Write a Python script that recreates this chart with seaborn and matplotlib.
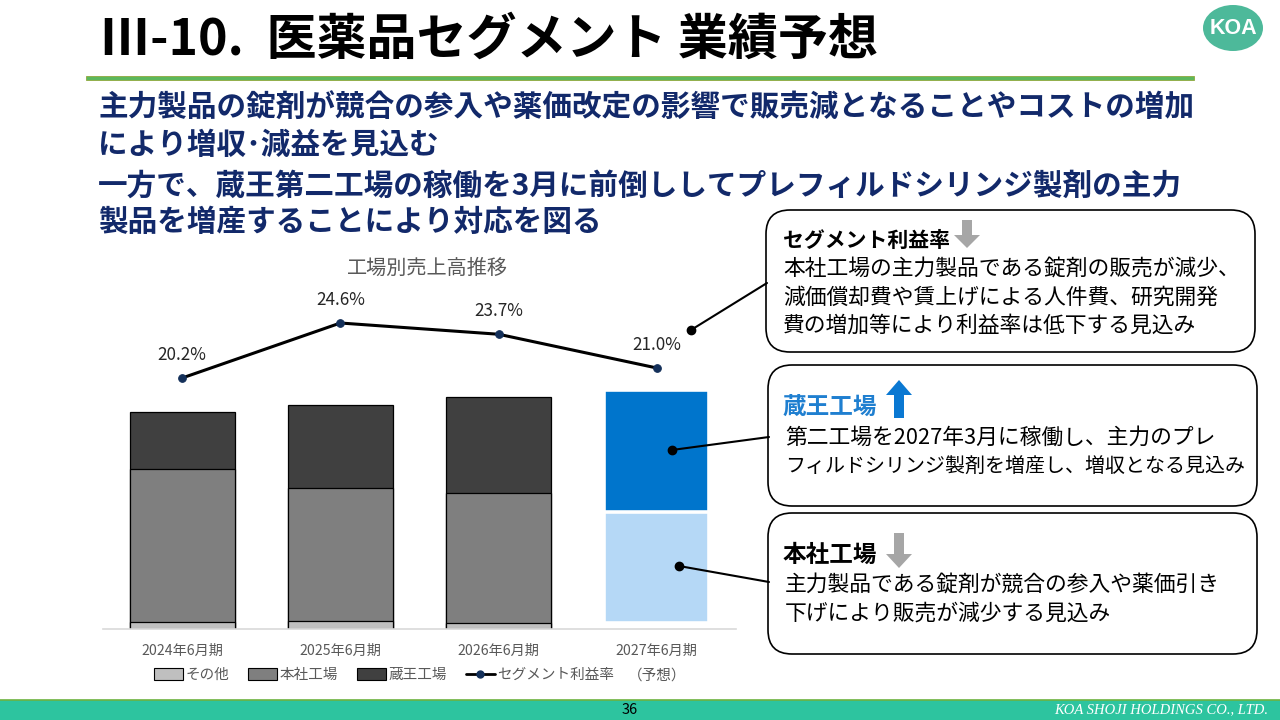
import matplotlib
matplotlib.use("Agg")
import matplotlib.pyplot as plt
import seaborn as sns
import pandas as pd
from matplotlib.patches import FancyBboxPatch, Rectangle, Ellipse, FancyArrow, Patch
from matplotlib.lines import Line2D

# ---------------- data (arbitrary units) ----------------
periods = ["2024年6月期", "2025年6月期", "2026年6月期", "2027年6月期"]
other_sales = [7, 8, 6, 6]          # その他
honsha_sales = [153, 133, 130, 111]  # 本社工場
zao_sales = [57, 83, 96, 122]        # 蔵王工場
margin_pct = [20.2, 24.6, 23.7, 21.0]  # セグメント利益率
legend_labels = ["その他", "本社工場", "蔵王工場", "セグメント利益率"]

other_colors = ["#BFBFBF", "#BFBFBF", "#BFBFBF", "#FFFFFF"]
honsha_colors = ["#7F7F7F", "#7F7F7F", "#7F7F7F", "#B5D8F6"]
zao_colors = ["#404040", "#404040", "#404040", "#0075CC"]

sns.set_theme(style="white")
plt.rcParams["font.family"] = ["Noto Sans CJK JP", "DejaVu Sans"]

W, H = 1280, 720
fig = plt.figure(figsize=(12.8, 7.2), dpi=100)
fig.patch.set_facecolor("white")

def fx(px):
    return px / W

def fy(py):
    return 1 - py / H

# ---------------- chart axes ----------------
ax = fig.add_axes([fx(103), fy(629), fx(633), 349 / H])
cum_other = [o for o in other_sales]
cum_honsha = [o + h for o, h in zip(other_sales, honsha_sales)]
cum_zao = [o + h + z for o, h, z in zip(other_sales, honsha_sales, zao_sales)]

layers = [(cum_zao, zao_colors), (cum_honsha, honsha_colors), (cum_other, other_colors)]
for vals, cols in layers:
    n0 = len(ax.patches)
    df = pd.DataFrame({"period": periods, "value": vals})
    sns.barplot(data=df, x="period", y="value", hue="period", palette=cols,
                dodge=False, width=0.665, saturation=1, legend=False,
                edgecolor="black", linewidth=0.9, ax=ax)
    new = ax.patches[n0:]
    # forecast column: borderless, white gaps
    new[-1].set_edgecolor("white")
    new[-1].set_linewidth(2.6)

ax.set_xlim(-0.5, 3.5)
ax.set_ylim(0, 349)
ax.set_xlabel("")
ax.set_ylabel("")
ax.set_yticks([])
ax.tick_params(axis="x", length=0, pad=11, labelsize=10.2, labelcolor="#595959")
for s in ["top", "left", "right"]:
    ax.spines[s].set_visible(False)
ax.spines["bottom"].set_color("#D9D9D9")
ax.spines["bottom"].set_linewidth(1.2)
ax.patch.set_alpha(0)

ax2 = ax.twinx()
sns.lineplot(x=list(range(len(periods))), y=margin_pct, ax=ax2, color="black",
             linewidth=2.2, marker="o", markersize=5.5, markerfacecolor="#14305A",
             markeredgecolor="#14305A")
ax2.set_ylim(0.12, 0.12 + 349 / 12.5)
ax2.set_xlim(-0.5, 3.5)
ax2.axis("off")
for i, v in enumerate(margin_pct):
    ax2.annotate(f"{v:.1f}%", (i, v), xytext=(0, 16.5), textcoords="offset points",
                 ha="center", va="center", fontsize=12.3, color="#262626")

# legend
handles = [Patch(facecolor="#BFBFBF", edgecolor="black", linewidth=0.8),
           Patch(facecolor="#7F7F7F", edgecolor="black", linewidth=0.8),
           Patch(facecolor="#404040", edgecolor="black", linewidth=0.8),
           Line2D([0], [0], color="black", lw=2, marker="o", markersize=5,
                  markerfacecolor="#14305A", markeredgecolor="#14305A")]
leg = fig.legend(handles, legend_labels, loc="center", bbox_to_anchor=(fx(384), fy(675)),
                 ncol=4, frameon=False, fontsize=10.5, handlelength=2.0, handleheight=0.8,
                 columnspacing=1.3, handletextpad=0.15)
for t in leg.get_texts():
    t.set_color("#595959")

# ---------------- overlay for slide decorations ----------------
ov = fig.add_axes([0, 0, 1, 1])
ov.set_xlim(0, W)
ov.set_ylim(H, 0)
ov.axis("off")
ov.patch.set_alpha(0)

ov.text(657, 676, "（予想）", ha="center", va="center", fontsize=10.5, color="#595959")
ov.text(427, 268, "工場別売上高推移", ha="center", va="center", fontsize=14.5, color="#595959")

# title
ov.text(100, 40, "Ⅲ-10.  医薬品セグメント 業績予想", ha="left", va="center",
        fontsize=36, fontweight="bold", color="black")
# KOA logo
ov.add_patch(Ellipse((1233, 28), 60, 46, facecolor="#4DB99A", edgecolor="none"))
ov.text(1233, 29, "KOA", ha="center", va="center", fontsize=15.5, color="white",
        fontweight="bold", family=["Liberation Sans", "DejaVu Sans"])
# green rule
ov.add_patch(Rectangle((86, 76), 1108, 4, facecolor="#5CB85C", edgecolor="#8FA83C", linewidth=0.6))

# headline text
navy = "#12296A"
body = ["主力製品の錠剤が競合の参入や薬価改定の影響で販売減となることやコストの増加",
        "により増収･減益を見込む",
        "一方で、蔵王第二工場の稼働を3月に前倒ししてプレフィルドシリンジ製剤の主力",
        "製品を増産することにより対応を図る"]
for yy, line in zip([108, 145, 186, 222], body):
    ov.text(98, yy, line, ha="left", va="center", fontsize=21.3, fontweight="bold", color=navy)

# callout boxes
boxes = [(766, 210, 489, 142), (768, 365, 489, 141), (768, 513, 489, 141)]
for x0, y0, w, h in boxes:
    ov.add_patch(FancyBboxPatch((x0, y0), w, h, boxstyle="round,pad=0,rounding_size=24",
                                facecolor="white", edgecolor="black", linewidth=1.2))

fs = 15.7
ov.text(783, 240, "セグメント利益率", ha="left", va="center", fontsize=15, fontweight="bold", color="black")
ov.add_patch(FancyArrow(967, 220, 0, 28, width=10, head_width=26, head_length=13,
                        length_includes_head=True, color="#A6A6A6", linewidth=0))
for yy, line in zip([270, 298, 326], ["本社工場の主力製品である錠剤の販売が減少、",
                                       "減価償却費や賃上げによる人件費、研究開発",
                                       "費の増加等により利益率は低下する見込み"]):
    ov.text(783, yy, line, ha="left", va="center", fontsize=fs, color="black")

ov.text(783, 407, "蔵王工場", ha="left", va="center", fontsize=17, fontweight="bold", color="#1F7FD0")
ov.add_patch(FancyArrow(899, 418, 0, -38, width=10, head_width=26, head_length=15,
                        length_includes_head=True, color="#0A78D2", linewidth=0))
ov.text(785, 438, "第二工場を2027年3月に稼働し、主力のプレ", ha="left", va="center",
        fontsize=fs, color="black")
ov.text(785, 466, "フィルドシリンジ製剤を増産し、増収となる見込み", ha="left", va="center",
        fontsize=14.4, color="black")

ov.text(783, 555, "本社工場", ha="left", va="center", fontsize=17, fontweight="bold", color="black")
ov.add_patch(FancyArrow(899, 533, 0, 35, width=10, head_width=26, head_length=14,
                        length_includes_head=True, color="#A6A6A6", linewidth=0))
for yy, line in zip([586, 614], ["主力製品である錠剤が競合の参入や薬価引き",
                                 "下げにより販売が減少する見込み"]):
    ov.text(785, yy, line, ha="left", va="center", fontsize=fs, color="black")

# connectors
for (xa, ya), (xb, yb) in [((691, 330), (767, 283)), ((672, 450), (769, 437)), ((679, 566), (769, 582))]:
    ov.plot([xa, xb], [ya, yb], color="black", lw=1.5, zorder=5)
    ov.plot([xa], [ya], "o", color="black", markersize=6, zorder=6)

# footer
ov.add_patch(Rectangle((0, 700), W, 20, facecolor="#2DC49F", edgecolor="none"))
ov.plot([0, W], [700, 700], color="#6DB33F", lw=1.2)
ov.text(630, 710, "36", ha="center", va="center", fontsize=10.5, color="black")
ov.text(1268, 710, "KOA SHOJI HOLDINGS CO., LTD.", ha="right", va="center", fontsize=10.5,
        color="white", style="italic", family=["Liberation Serif", "DejaVu Serif"])

fig.savefig("out.png", dpi=100)
